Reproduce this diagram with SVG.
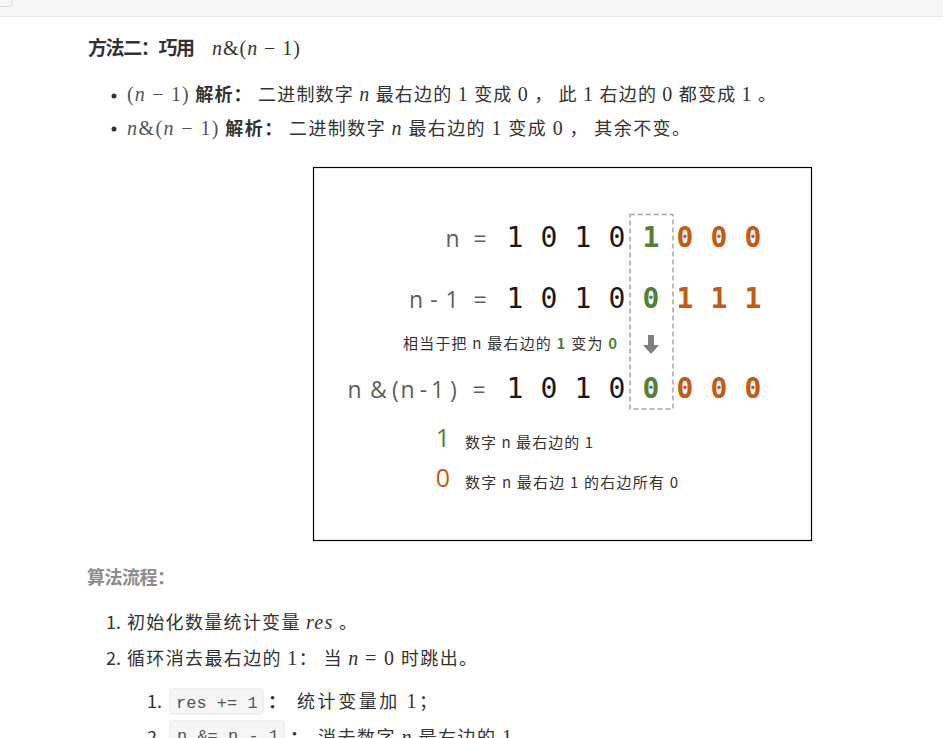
<svg xmlns="http://www.w3.org/2000/svg" width="943" height="738" viewBox="0 0 943 738">
<style>
.cjk{font-family:"Noto Sans CJK SC","Noto Sans",sans-serif;fill:#333;}
.b{font-weight:bold;}
.m{font-family:"Liberation Serif","DejaVu Serif",serif;font-size:20px;}
.mi{font-family:"Liberation Serif","DejaVu Serif",serif;font-style:italic;font-size:20px;}
.mono{font-family:"DejaVu Sans Mono",monospace;font-size:28px;text-anchor:middle;}
.lbl{font-family:"Open Sans","Noto Sans",sans-serif;font-size:23px;fill:#5f5f5f;text-anchor:middle;}
.g{fill:#548235;}
.o{fill:#c55a11;}
.k{fill:#1a1a1a;}
.code{font-family:"Liberation Mono",monospace;font-size:17px;fill:#555;}
.cbox{fill:#f6f6f6;stroke:#e6e6e6;stroke-width:1;}
</style>
<rect x="0" y="0" width="943" height="738" fill="#fff"/>
<g id="topbar">
<rect x="0" y="0" width="943" height="16" fill="#f5f5f5"/>
<line x1="0" y1="16.5" x2="943" y2="16.5" stroke="#e6e6e6"/>
<rect x="-6" y="-6" width="18" height="12.5" rx="3" fill="#f7f7f7" stroke="#d9d9d9"/>
</g>
<g id="title">
<text x="88" y="55" class="cjk b" font-size="19" fill="#222" textLength="107">方法二：巧用</text>
<text x="212" y="55" class="m" fill="#333" textLength="88"><tspan class="mi">n</tspan>&amp;(<tspan class="mi">n</tspan> − 1)</text>
</g>
<g id="bullets">
<circle cx="114" cy="96" r="2.5" fill="#333"/>
<text x="127" y="101" class="cjk" font-size="18" textLength="649"><tspan class="m" fill="#555">(<tspan class="mi">n</tspan> − 1)</tspan> <tspan class="b">解析：</tspan> 二进制数字 <tspan class="mi">n</tspan> 最右边的 <tspan class="m">1</tspan> 变成 <tspan class="m">0</tspan> ， 此 <tspan class="m">1</tspan> 右边的 <tspan class="m">0</tspan> 都变成 <tspan class="m">1</tspan> 。</text>
<circle cx="114" cy="129" r="2.5" fill="#333"/>
<text x="127" y="135" class="cjk" font-size="18" textLength="563"><tspan class="m" fill="#555"><tspan class="mi">n</tspan>&amp;(<tspan class="mi">n</tspan> − 1)</tspan> <tspan class="b">解析：</tspan> 二进制数字 <tspan class="mi">n</tspan> 最右边的 <tspan class="m">1</tspan> 变成 <tspan class="m">0</tspan> ， 其余不变。</text>
</g>
<g id="diagram">
<rect x="313.5" y="167.5" width="498" height="373" fill="#fff" stroke="#000" stroke-width="1.2"/>
<rect x="630" y="214.5" width="43" height="194.5" fill="none" stroke="#a6a6a6" stroke-width="1.5" stroke-dasharray="5 3"/>
<g id="row1">
<text class="lbl" y="247" x="452.5 480">n=</text>
<text class="mono k" y="247" x="515 549 583 617">1010</text>
<text class="mono g" y="247" x="651" font-weight="bold">1</text>
<text class="mono o" y="247" x="685 719 753" font-weight="bold">000</text>
</g>
<g id="row2">
<text class="lbl" y="308" x="416 434 452 480">n-1=</text>
<text class="mono k" y="308" x="515 549 583 617">1010</text>
<text class="mono g" y="308" x="651" font-weight="bold">0</text>
<text class="mono o" y="308" x="685 719 753" font-weight="bold">111</text>
</g>
<g id="note">
<text x="403" y="349" class="cjk" font-size="15" fill="#404040" textLength="214">相当于把 n 最右边的 <tspan class="g b">1</tspan> 变为 <tspan class="g b">0</tspan></text>
<polygon points="648,335 654,335 654,345 659,345 651,354 643,345 648,345" fill="#7f7f7f"/>
</g>
<g id="row3">
<text class="lbl" y="398" x="354.5 378.5 395.5 407.5 423.5 437.5 453.5 479">n&amp;(n-1)=</text>
<text class="mono k" y="398" x="515 549 583 617">1010</text>
<text class="mono g" y="398" x="651" font-weight="bold">0</text>
<text class="mono o" y="398" x="685 719 753" font-weight="bold">000</text>
</g>
<g id="legend">
<text x="443" y="447" font-family="Open Sans, Noto Sans, sans-serif" font-size="25" class="g" text-anchor="middle">1</text>
<text x="465" y="448" class="cjk" font-size="15" textLength="128">数字 n 最右边的 1</text>
<text x="443" y="487" font-family="Open Sans, Noto Sans, sans-serif" font-size="25" class="o" text-anchor="middle">0</text>
<text x="465" y="488" class="cjk" font-size="15" textLength="213">数字 n 最右边 1 的右边所有 0</text>
</g>
</g>
<g id="algo">
<text x="87" y="584" class="cjk b" font-size="18" style="fill:#8c8c8c" textLength="88">算法流程：</text>
<text x="106" y="629" class="cjk" font-size="18">1.</text>
<text x="127" y="629" class="cjk" font-size="18" textLength="230">初始化数量统计变量 <tspan class="mi">res</tspan> 。</text>
<text x="106" y="665" class="cjk" font-size="18">2.</text>
<text x="127" y="665" class="cjk" font-size="18" textLength="350">循环消去最右边的 <tspan class="m">1</tspan>： 当 <tspan class="mi">n</tspan> <tspan class="m">= 0</tspan> 时跳出。</text>
<text x="147" y="708" class="cjk" font-size="18">1.</text>
<rect class="cbox" x="170" y="689" width="93" height="25" rx="3"/>
<text x="176" y="708" class="code">res += 1</text>
<text x="268" y="708" class="cjk b" font-size="18">：</text>
<text x="297" y="708" class="cjk" font-size="18" textLength="140">统计变量加 <tspan class="m">1</tspan>；</text>
<text x="147" y="744" class="cjk" font-size="18">2.</text>
<rect class="cbox" x="170" y="721" width="114" height="25" rx="3"/>
<text x="177" y="741" class="code">n &amp;= n - 1</text>
<text x="290" y="744" class="cjk b" font-size="18">：</text>
<text x="318" y="744" class="cjk" font-size="18" textLength="194">消去数字 <tspan class="mi">n</tspan> 最右边的 <tspan class="m">1</tspan></text>
</g>
</svg>
